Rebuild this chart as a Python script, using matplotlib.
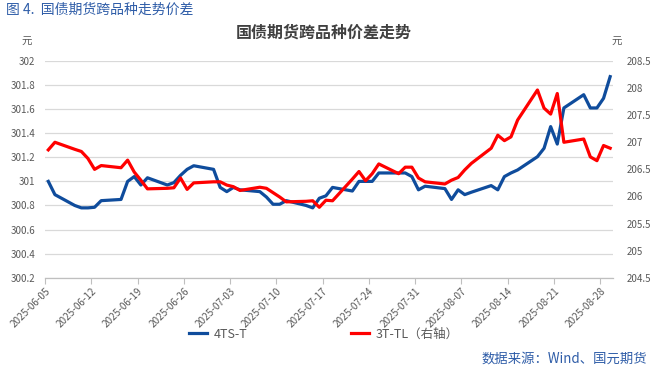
import matplotlib
matplotlib.use("Agg")
import matplotlib.pyplot as plt
import matplotlib.transforms as mtrans
import numpy as np
import datetime as dt

plt.rcParams['font.family'] = ['Noto Sans CJK SC', 'DejaVu Sans']

dates = ["2025-06-05", "2025-06-06", "2025-06-09", "2025-06-10", "2025-06-11", "2025-06-12", "2025-06-13",
         "2025-06-16", "2025-06-17", "2025-06-18", "2025-06-19", "2025-06-20",
         "2025-06-23", "2025-06-24", "2025-06-25", "2025-06-26", "2025-06-27",
         "2025-06-30", "2025-07-01", "2025-07-02", "2025-07-03", "2025-07-04",
         "2025-07-07", "2025-07-08", "2025-07-09", "2025-07-10", "2025-07-11",
         "2025-07-14", "2025-07-15", "2025-07-16", "2025-07-17", "2025-07-18",
         "2025-07-21", "2025-07-22", "2025-07-23", "2025-07-24", "2025-07-25",
         "2025-07-28", "2025-07-29", "2025-07-30", "2025-07-31", "2025-08-01",
         "2025-08-04", "2025-08-05", "2025-08-06", "2025-08-07", "2025-08-08",
         "2025-08-11", "2025-08-12", "2025-08-13", "2025-08-14", "2025-08-15",
         "2025-08-18", "2025-08-19", "2025-08-20", "2025-08-21", "2025-08-22",
         "2025-08-25", "2025-08-26", "2025-08-27", "2025-08-28", "2025-08-29"]

ts_t = [301.00, 300.89, 300.80, 300.78, 300.78, 300.785, 300.84,
        300.85, 301.00, 301.04, 300.97, 301.03,
        300.97, 300.99, 301.05, 301.10, 301.13,
        301.10, 300.95, 300.915, 300.95, 300.93,
        300.915, 300.87, 300.81, 300.81, 300.84,
        300.80, 300.78, 300.86, 300.88, 300.95,
        300.92, 301.00, 301.00, 301.00, 301.07,
        301.07, 301.07, 301.04, 300.93, 300.96,
        300.94, 300.85, 300.93, 300.89, 300.91,
        300.965, 300.93, 301.04, 301.07, 301.095,
        301.205, 301.275, 301.455, 301.31, 301.61,
        301.72, 301.61, 301.61, 301.69, 301.87]

t_tl = [206.86, 207.00, 206.87, 206.83, 206.70, 206.50, 206.57,
        206.53, 206.67, 206.45, 206.30, 206.14,
        206.15, 206.16, 206.34, 206.13, 206.25,
        206.27, 206.27, 206.21, 206.18, 206.11,
        206.17, 206.15, 206.07, 205.99, 205.90,
        205.91, 205.92, 205.80, 205.93, 205.92,
        206.32, 206.46, 206.29, 206.42, 206.60,
        206.42, 206.54, 206.54, 206.34, 206.27,
        206.23, 206.30, 206.35, 206.49, 206.61,
        206.89, 207.13, 207.03, 207.10, 207.41,
        207.965, 207.63, 207.52, 207.90, 207.00,
        207.06, 206.73, 206.66, 206.94, 206.89]

tick_labels = ["2025-06-05", "2025-06-12", "2025-06-19", "2025-06-26", "2025-07-03", "2025-07-10",
               "2025-07-17", "2025-07-24", "2025-07-31", "2025-08-07", "2025-08-14", "2025-08-21",
               "2025-08-28"]

left_ticks = [300.2, 300.4, 300.6, 300.8, 301, 301.2, 301.4, 301.6, 301.8, 302]
right_ticks = [204.5, 205, 205.5, 206, 206.5, 207, 207.5, 208, 208.5]

base = dt.date(2025, 6, 5)
def dnum(s):
    return (dt.date.fromisoformat(s) - base).days

x = np.array([dnum(d) for d in dates]) + 0.5
xt = [dnum(d) for d in tick_labels]

W, H = 652, 374
fig = plt.figure(figsize=(W / 100, H / 100), dpi=100)
ax = fig.add_axes([45 / W, 1 - 277.7 / H, (613 - 45) / W, (277.7 - 61) / H])
ax2 = ax.twinx()

blue = '#0F4C9C'
red = '#FF0000'
grey = '#595959'

for v in left_ticks:
    ax.axhline(v, color='#D9D9D9', lw=0.9, zorder=0)

l1, = ax.plot(x, ts_t, color=blue, lw=2.3, solid_joinstyle='round', zorder=3)
l2, = ax2.plot(x, t_tl, color=red, lw=2.3, solid_joinstyle='round', zorder=3)

ax.set_xlim(0, (613 - 45) / 6.61)
ax.set_ylim(300.2, 302)
ax2.set_ylim(204.5, 208.5)
ax.set_yticks(left_ticks)
ax.set_yticklabels([f"{v:g}" for v in left_ticks])
ax2.set_yticks(right_ticks)
ax2.set_yticklabels([f"{v:g}" for v in right_ticks])
ax.set_xticks(xt)
ax.set_xticklabels(tick_labels, rotation=45, ha='right', va='top', rotation_mode='anchor')
offset = mtrans.ScaledTranslation(6 / 100, -4 / 100, fig.dpi_scale_trans)
for lab in ax.get_xticklabels():
    lab.set_transform(lab.get_transform() + offset)

for a in (ax, ax2):
    for s in a.spines.values():
        s.set_visible(False)
ax.spines['bottom'].set_visible(True)
ax.spines['bottom'].set_color('#BFBFBF')
ax.spines['bottom'].set_linewidth(0.9)
ax.tick_params(axis='x', length=4, color='#BFBFBF', labelsize=7.2, labelcolor=grey, pad=2)
ax.tick_params(axis='y', length=0, labelsize=7, labelcolor=grey, pad=7)
ax2.tick_params(axis='y', length=0, labelsize=7, labelcolor=grey, pad=10)
ax2.set_zorder(ax.get_zorder() + 1)

fig.text(6 / W, 1 - 10 / H, "图 4.  国债期货跨品种走势价差", color='#2F5DA8', fontsize=10,
         ha='left', va='center')
fig.text(324 / W, 1 - 33 / H, "国债期货跨品种价差走势", color='#404040', fontsize=11.5,
         fontweight='bold', ha='center', va='center')
fig.text(27 / W, 1 - 42 / H, "元", color=grey, fontsize=7.5, ha='center', va='center')
fig.text(617 / W, 1 - 42 / H, "元", color=grey, fontsize=7.5, ha='center', va='center')
fig.text(647 / W, 1 - 359 / H, "数据来源：Wind、国元期货", color='#2F5DA8', fontsize=9.6,
         ha='right', va='center')

fig.legend([l1, l2], ["4TS-T", "3T-TL（右轴）"], loc='center', bbox_to_anchor=(324 / W, 1 - 334 / H),
           ncol=2, frameon=False, fontsize=9, labelcolor=grey, handlelength=1.45,
           columnspacing=8.3, handletextpad=0.5)

fig.savefig("out.png", dpi=100)
